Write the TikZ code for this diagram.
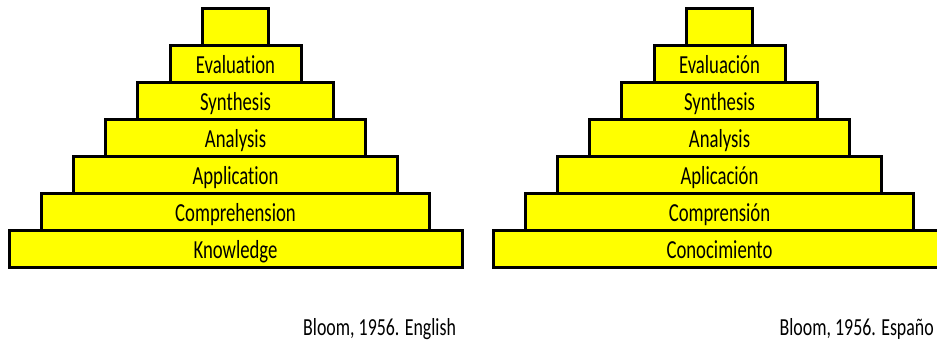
\documentclass[tikz,border=0pt]{standalone}
\usepackage{fontspec}
\setmainfont{Carlito}
\newfontfamily\tierfont[FakeStretch=0.72,Ligatures=NoCommon]{Carlito}
\newfontfamily\creditfont[FakeStretch=0.73,Ligatures=NoCommon]{Carlito}
\usetikzlibrary{positioning}
\definecolor{ink}{HTML}{000000}
\definecolor{tierfill}{HTML}{FFFF00}
\tikzset{
  tier/.style={draw=ink,fill=tierfill,line width=3pt,inner sep=0pt,minimum height=37pt,
    text height=19pt,text depth=0pt,font=\tierfont\fontsize{26}{30}\selectfont,text=ink},
  credit/.style={inner sep=0pt,font=\creditfont\fontsize{24.5}{28}\selectfont,text=ink}
}

\begin{document}
\begin{tikzpicture}[x=1pt,y=-1pt]
  \clip (0,0) rectangle (937,343);
  \fill[white] (0,0) rectangle (937,343);

  % English pyramid
  \foreach \i/\txt in {0/Knowledge,1/Comprehension,2/Application,3/Analysis,4/Synthesis,5/Evaluation,6/{}}
    \node[tier,minimum width={453pt-64.4pt*\i}] (en\i) at (235.5,{248.5-37*\i}) {\txt};

  % Spanish pyramid
  \foreach \i/\txt in {0/Conocimiento,1/Comprensión,2/Aplicación,3/Analysis,4/Synthesis,5/Evaluación,6/{}}
    \node[tier,minimum width={453pt-64.4pt*\i}] (es\i) at (719.5,{248.5-37*\i}) {\txt};

  \node[credit,anchor=base west] (enref) at (303,335) {Bloom, 1956. English};
  \node[credit,anchor=base east] (esref) at (934,335) {Bloom, 1956. Españo};
\end{tikzpicture}
\end{document}
